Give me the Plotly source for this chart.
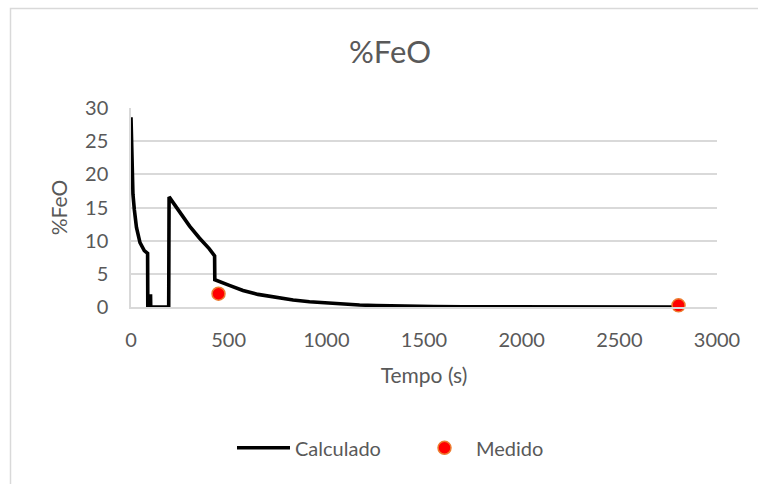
import plotly.graph_objects as go

# Calculated %FeO over time (s)
tempo_calc = [0, 2, 5, 10, 17, 28, 46, 68, 85, 86, 96, 97, 100, 101, 110, 193, 195,
              250, 300, 350, 400, 428, 429, 500, 573, 650, 743, 830, 914, 1000, 1085,
              1170, 1255, 1340, 1426, 1550, 1700, 1900, 2200, 2500, 2800]
feo_calc = [28.6, 26.2, 21.1, 17.0, 14.7, 12.0, 9.7, 8.5, 8.1, 0, 0, 1.9, 1.9, 0, 0, 0, 16.6,
            14.2, 12.2, 10.4, 8.8, 7.7, 4.1, 3.3, 2.5, 1.9, 1.4, 1.05, 0.8, 0.6, 0.42,
            0.3, 0.22, 0.15, 0.1, 0.06, 0.03, 0.02, 0.01, 0.0, 0.0]

# Measured samples
tempo_med = [448, 2803]
feo_med = [2.0, 0.25]

x_ticks = [0, 500, 1000, 1500, 2000, 2500, 3000]
y_ticks = [0, 5, 10, 15, 20, 25, 30]

FONT = "Lato"
TXT = "#595959"
GRID = "#d9d9d9"

W, H = 758, 484
L, R, T, B = 131, 41, 107.5, 176.5

fig = go.Figure()
fig.add_trace(go.Scatter(
    x=tempo_calc, y=feo_calc, mode="lines", name="Calculado",
    line=dict(color="black", width=3.6),
))
fig.add_trace(go.Scatter(
    x=tempo_med, y=feo_med, mode="markers", name="Medido",
    marker=dict(color="#ff0000", size=13, line=dict(color="#ed7d31", width=1.5)),
    cliponaxis=False,
))

pw = W - L - R
ph = H - T - B

def px_x(p):
    return (p - L) / pw

def px_y(p):
    return (H - B - p) / ph

# outer chart frame
fig.add_shape(type="rect", xref="paper", yref="paper",
              x0=px_x(10.5), x1=px_x(775), y0=px_y(495), y1=px_y(7.5),
              line=dict(color=GRID, width=1.5), layer="below")

fig.update_layout(
    width=W, height=H,
    margin=dict(l=L, r=R, t=T, b=B),
    paper_bgcolor="white", plot_bgcolor="white",
    font=dict(family=FONT, color=TXT, size=20),
    title=dict(text="%FeO", x=390 / W, xanchor="center", xref="container",
               y=1 - 52 / H, yanchor="middle", yref="container",
               font=dict(family=FONT, size=31, color=TXT)),
    showlegend=True,
    legend=dict(orientation="h", x=px_x(232), xanchor="left",
                y=px_y(449), yanchor="middle",
                font=dict(family=FONT, size=20, color=TXT),
                itemwidth=53, entrywidth=113, entrywidthmode="pixels",
                bgcolor="rgba(0,0,0,0)"),
    xaxis=dict(range=[0, 3000], tickvals=x_ticks, ticktext=[str(v) for v in x_ticks],
               showgrid=False, zeroline=False, showline=True, linecolor=GRID, linewidth=1.5,
               ticks="", ticklabelstandoff=14,
               tickfont=dict(family=FONT, size=20, color=TXT),
               title=dict(text="Tempo (s)", standoff=19,
                          font=dict(family=FONT, size=21, color=TXT)),
               automargin=False),
    yaxis=dict(range=[0, 30], tickvals=y_ticks, ticktext=[str(v) for v in y_ticks],
               showgrid=True, gridcolor=GRID, gridwidth=1.5, zeroline=False,
               showline=True, linecolor=GRID, linewidth=1.5,
               ticks="", ticklabelstandoff=17,
               tickfont=dict(family=FONT, size=20, color=TXT),
               title=dict(text="%FeO", standoff=12,
                          font=dict(family=FONT, size=21, color=TXT)),
               automargin=False),
)

fig.write_html("out.html")
